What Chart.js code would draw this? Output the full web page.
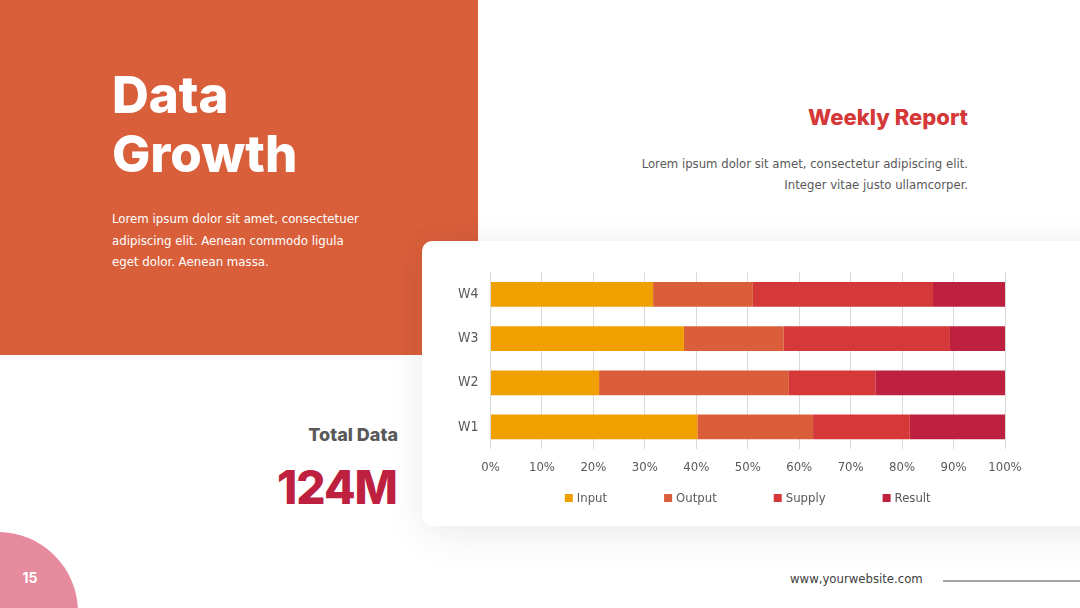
<!DOCTYPE html>
<html>
<head>
<meta charset="utf-8">
<script src="https://cdn.jsdelivr.net/npm/chart.js@4.4.0/dist/chart.umd.min.js"></script>
<style>
  html, body { margin: 0; padding: 0; }
  body { width: 1080px; height: 608px; position: relative; overflow: hidden; background: #fff;
         font-family: 'DejaVu Sans Condensed', 'DejaVu Sans', sans-serif; }
  .abs { position: absolute; white-space: nowrap; }
  #panel { left: 0; top: 0; width: 478px; height: 355px; background: #D95F3B; }
  #title { left: 112px; top: 65px; font-family: Inter, sans-serif; font-weight: 800; font-size: 51px; line-height: 59px; color: #fff; }
  #intro { left: 112px; top: 208px; font-size: 13.1px; line-height: 21.5px; color: #fff; }
  #card { left: 422px; top: 241px; width: 720px; height: 285px; background: #fff; border-radius: 10px;
          box-shadow: 0 10px 40px rgba(0,0,0,0.07), 0 -6px 40px rgba(0,0,0,0.025); }
  #weekly { right: 112px; top: 104px; font-family: Inter, sans-serif; font-weight: 800; font-size: 22px; line-height: 26px; color: #D43838; text-align: right; }
  #desc { right: 112px; top: 153px; font-size: 13px; line-height: 21px; color: #595959; text-align: right; }
  #totalLbl { right: 682px; top: 424px; font-family: Inter, sans-serif; font-weight: 800; font-size: 18px; line-height: 22px; color: #595959; }
  #totalVal { right: 683px; top: 460px; font-family: Inter, sans-serif; font-weight: 800; font-size: 46px; line-height: 54px; color: #BE2140; letter-spacing: -1px; }
  #circle { left: -82px; top: 532px; width: 160px; height: 160px; border-radius: 50%; background: #E68A9E; }
  #page { left: 22px; top: 569px; width: 16px; text-align: center; font-family: Inter, sans-serif; font-weight: 700; font-size: 14px; line-height: 18px; color: #fff; }
  #site { left: 790px; top: 570px; font-size: 13px; line-height: 18px; color: #404040; }
  #rule { left: 943px; top: 580px; width: 137px; height: 2px; background: #A6A6A6; }
  #wrap { left: 430px; top: 252px; width: 620px; height: 268px; }
</style>
</head>
<body>
<div class="abs" id="panel"></div>
<div class="abs" id="title">Data<br>Growth</div>
<div class="abs" id="intro">Lorem ipsum dolor sit amet, consectetuer<br>adipiscing elit. Aenean commodo ligula<br>eget dolor. Aenean massa.</div>
<div class="abs" id="weekly">Weekly Report</div>
<div class="abs" id="desc">Lorem ipsum dolor sit amet, consectetur adipiscing elit.<br>Integer vitae justo ullamcorper.</div>
<div class="abs" id="card"></div>
<div class="abs" id="wrap"><canvas id="barChart"></canvas></div>
<div class="abs" id="totalLbl">Total Data</div>
<div class="abs" id="totalVal">124M</div>
<div class="abs" id="circle"></div>
<div class="abs" id="page">15</div>
<div class="abs" id="site">www,yourwebsite.com</div>
<div class="abs" id="rule"></div>

<script>
var semanas  = ['W1', 'W2', 'W3', 'W4'];
var series   = ['Input', 'Output', 'Supply', 'Result'];
var input    = [40.2, 21.1, 37.6, 31.6];
var output   = [22.5, 36.9, 19.4, 19.4];
var supply   = [18.8, 16.8, 32.3, 35.0];
var result   = [18.5, 25.2, 10.7, 14.0];
var colores  = ['#F0A000', '#DA5E3A', '#D43838', '#BE2140'];
var ticksX   = [0, 10, 20, 30, 40, 50, 60, 70, 80, 90, 100];

var fuente = "'DejaVu Sans Condensed', 'DejaVu Sans', sans-serif";

// legend drawn as one spaced row under the axis
var leyenda = {
    id: 'leyenda',
    afterDraw: function(chart) {
        var ctx = chart.ctx;
        var ds = chart.data.datasets;
        var caja = 8, sep = 4, hueco = 57;
        ctx.save();
        ctx.font = '13px ' + fuente;
        ctx.textBaseline = 'middle';
        var anchos = ds.map(function(d){ return caja + sep + ctx.measureText(d.label).width; });
        var total = anchos.reduce(function(a, b){ return a + b; }, 0) + hueco * (ds.length - 1);
        var x = (chart.chartArea.left + chart.chartArea.right) / 2 - total / 2;
        var y = chart.chartArea.bottom + 49;
        for (var i = 0; i < ds.length; i++) {
            ctx.fillStyle = ds[i].backgroundColor;
            ctx.fillRect(x, y - 4, caja, caja);
            ctx.fillStyle = '#595959';
            ctx.fillText(ds[i].label, x + caja + sep, y + 1);
            x += anchos[i] + hueco;
        }
        ctx.restore();
    }
};

function generarGrafica() {
    var valores = [input, output, supply, result];
    var datasets = [];
    for (var i = 0; i < series.length; i++) {
        datasets.push({
            label: series[i],
            data: valores[i],
            backgroundColor: colores[i],
            borderWidth: 0,
            barPercentage: 0.56,
            categoryPercentage: 1
        });
    }

    new Chart(document.getElementById('barChart').getContext('2d'), {
        type: 'bar',
        data: { labels: semanas, datasets: datasets },
        options: {
            indexAxis: 'y',
            responsive: true,
            maintainAspectRatio: false,
            animation: false,
            layout: { padding: { top: 9, right: 45, bottom: 43, left: 0 } },
            plugins: { legend: { display: false }, tooltip: { enabled: false } },
            scales: {
                x: {
                    stacked: true,
                    min: 0,
                    max: 100,
                    afterBuildTicks: function(scale) {
                        scale.ticks = ticksX.map(function(v){ return { value: v }; });
                    },
                    afterFit: function(scale) { scale.height = 28; },
                    grid: { color: '#D9D9D9', lineWidth: 1, drawTicks: false },
                    border: { display: false },
                    ticks: {
                        padding: 11,
                        color: '#595959',
                        font: { family: fuente, size: 13 },
                        callback: function(v){ return v + '%'; }
                    }
                },
                y: {
                    stacked: true,
                    reverse: true,
                    afterFit: function(scale) { scale.width = 60.5; },
                    grid: { display: false, drawTicks: false },
                    border: { display: false },
                    ticks: {
                        padding: 12,
                        color: '#595959',
                        font: { family: fuente, size: 14 }
                    }
                }
            }
        },
        plugins: [leyenda]
    });
}

generarGrafica();
</script>
</body>
</html>
